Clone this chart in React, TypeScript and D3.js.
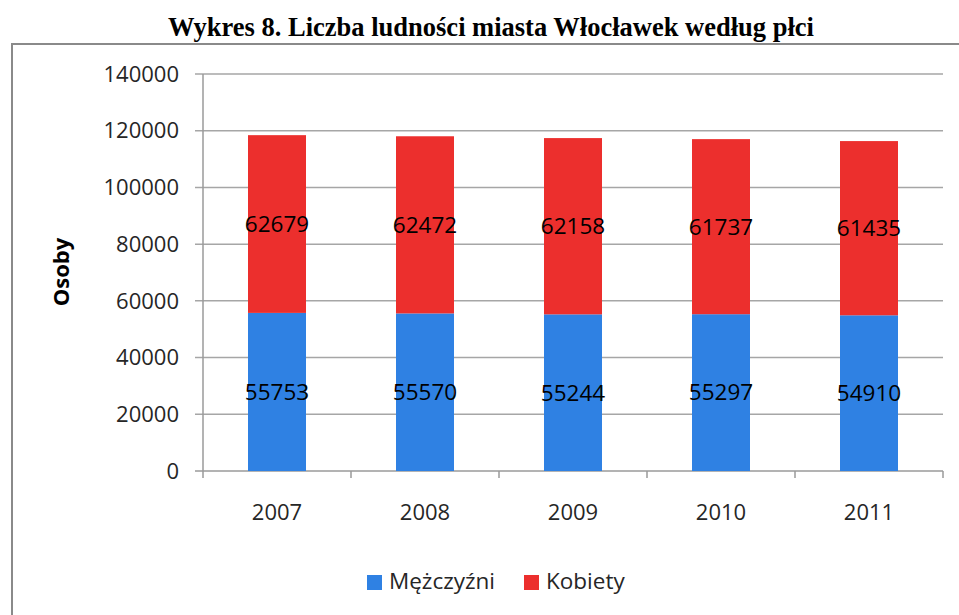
import { useEffect, useRef } from 'react'
import * as d3 from 'd3'

const years = ['2007', '2008', '2009', '2010', '2011']
const men = [55753, 55570, 55244, 55297, 54910]
const women = [62679, 62472, 62158, 61737, 61435]
const yTicks = [0, 20000, 40000, 60000, 80000, 100000, 120000, 140000]
const seriesNames = ['Mężczyźni', 'Kobiety']
const seriesColors = ['#2f81e3', '#ec2f2d']

export default function App() {
  const svgRef = useRef<SVGSVGElement>(null)

  useEffect(() => {
    const width = 959
    const height = 615
    const margin = { top: 74, right: 16, bottom: 144, left: 203 }
    const font = '"Open Sans", sans-serif'

    const svg = d3.select(svgRef.current)
    svg.selectAll('*').remove()

    // title
    svg.append('text')
      .attr('x', 491)
      .attr('y', 36)
      .attr('text-anchor', 'middle')
      .attr('font-family', '"Liberation Serif", "Times New Roman", serif')
      .attr('font-weight', 'bold')
      .attr('font-size', 26.5)
      .attr('fill', '#000')
      .text('Wykres 8. Liczba ludności miasta Włocławek według płci')

    // chart frame
    svg.append('path')
      .attr('d', `M12,${height + 5}V44H${width + 5}`)
      .attr('fill', 'none')
      .attr('stroke', '#8a8a8a')
      .attr('stroke-width', 2)

    const x = d3.scaleBand()
      .domain(years)
      .range([margin.left, width - margin.right])
      .paddingInner(0)
      .paddingOuter(0)

    const y = d3.scaleLinear()
      .domain([0, 140000])
      .range([height - margin.bottom, margin.top])

    const g = svg.append('g')

    // gridlines
    g.selectAll('.grid')
      .data(yTicks)
      .join('line')
      .attr('x1', margin.left - 8)
      .attr('x2', width - margin.right)
      .attr('y1', d => y(d))
      .attr('y2', d => y(d))
      .attr('stroke', d => (d === 0 ? '#9a9a9a' : '#a6a6a6'))
      .attr('stroke-width', 1.5)

    // y axis line
    g.append('line')
      .attr('x1', margin.left)
      .attr('x2', margin.left)
      .attr('y1', y(140000))
      .attr('y2', y(0) + 7)
      .attr('stroke', '#9a9a9a')
      .attr('stroke-width', 1.5)

    // x ticks at category boundaries
    const bounds = years.map(d => x(d) as number).concat([width - margin.right])
    g.selectAll('.xtick')
      .data(bounds.slice(1))
      .join('line')
      .attr('x1', d => d)
      .attr('x2', d => d)
      .attr('y1', y(0))
      .attr('y2', y(0) + 7)
      .attr('stroke', '#9a9a9a')
      .attr('stroke-width', 1.5)

    // y tick labels
    g.selectAll('.ylab')
      .data(yTicks)
      .join('text')
      .attr('x', 179)
      .attr('y', d => y(d))
      .attr('dy', '0.35em')
      .attr('text-anchor', 'end')
      .attr('font-family', font)
      .attr('font-size', 22)
      .attr('fill', '#262626')
      .text(d => d)

    // x labels
    g.selectAll('.xlab')
      .data(years)
      .join('text')
      .attr('x', d => (x(d) as number) + x.bandwidth() / 2)
      .attr('y', 520)
      .attr('text-anchor', 'middle')
      .attr('font-family', font)
      .attr('font-size', 22)
      .attr('fill', '#262626')
      .text(d => d)

    // y axis title
    svg.append('text')
      .attr('transform', 'translate(69,272) rotate(-90)')
      .attr('text-anchor', 'middle')
      .attr('font-family', font)
      .attr('font-weight', 'bold')
      .attr('font-size', 22)
      .attr('fill', '#000')
      .text('Osoby')

    // stacked bars
    const rows = years.map((yr, i) => ({ year: yr, m: men[i], k: women[i] }))
    const stack = d3.stack<any>().keys(['m', 'k'])(rows)
    const barW = 58

    const layers = g.selectAll('.layer')
      .data(stack)
      .join('g')
      .attr('fill', (d, i) => seriesColors[i])

    layers.selectAll('rect')
      .data(d => d)
      .join('rect')
      .attr('x', d => (x(d.data.year) as number) + x.bandwidth() / 2 - barW / 2)
      .attr('width', barW)
      .attr('y', d => y(d[1]))
      .attr('height', d => y(d[0]) - y(d[1]))

    layers.selectAll('text')
      .data(d => d.map(v => ({ v, key: d.key })))
      .join('text')
      .attr('x', d => (x(d.v.data.year) as number) + x.bandwidth() / 2)
      .attr('y', d => y((d.v[0] + d.v[1]) / 2))
      .attr('dy', '0.35em')
      .attr('text-anchor', 'middle')
      .attr('font-family', font)
      .attr('font-size', 22.5)
      .attr('fill', '#000')
      .text(d => d.v[1] - d.v[0])

    // legend
    const legendX = [367, 524]
    const legend = svg.append('g')
    seriesNames.forEach((name, i) => {
      legend.append('rect')
        .attr('x', legendX[i])
        .attr('y', 575)
        .attr('width', 15)
        .attr('height', 15)
        .attr('fill', seriesColors[i])
      legend.append('text')
        .attr('x', legendX[i] + 22)
        .attr('y', 589)
        .attr('font-family', font)
        .attr('font-size', 22.5)
        .attr('fill', '#262626')
        .text(name)
    })
  }, [])

  return (
    <svg
      ref={svgRef}
      width={959}
      height={615}
      style={{ position: 'absolute', left: 0, top: 0, background: '#fff' }}
    />
  )
}
